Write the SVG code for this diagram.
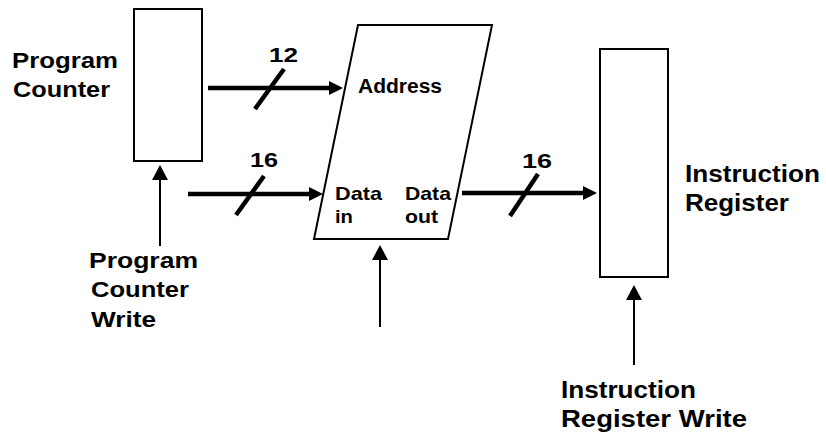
<svg xmlns="http://www.w3.org/2000/svg" width="826" height="435" viewBox="0 0 826 435">
<style>
.box{fill:#fff;stroke:#000;stroke-width:2}
.bus{stroke:#000;stroke-width:4.5;fill:none}
.thin{stroke:#000;stroke-width:2;fill:none}
.lbl{font-family:"Liberation Sans",Arial,sans-serif;font-weight:bold;fill:#000}
</style>
<defs>
<marker id="ah" markerUnits="userSpaceOnUse" markerWidth="14" markerHeight="14" refX="8" refY="7" orient="auto">
<path d="M0,0 L14,7 L0,14 z" fill="#000"/>
</marker>
<marker id="ahs" markerUnits="userSpaceOnUse" markerWidth="15" markerHeight="16" refX="9" refY="8" orient="auto">
<path d="M0,0 L15,8 L0,16 z" fill="#000"/>
</marker>
</defs>
<rect width="826" height="435" fill="#fff"/>
<g id="program-counter">
<rect class="box" x="134" y="9" width="68" height="152"/>
<text class="lbl" x="12" y="68" font-size="22" textLength="106" lengthAdjust="spacingAndGlyphs">Program</text>
<text class="lbl" x="13" y="97" font-size="22" textLength="97" lengthAdjust="spacingAndGlyphs">Counter</text>
</g>
<g id="memory">
<polygon class="box" points="358,25 492,25 448,239 314,239"/>
<text class="lbl" x="358" y="93" font-size="20" textLength="84" lengthAdjust="spacingAndGlyphs">Address</text>
<text class="lbl" x="335" y="200" font-size="18.5" textLength="47" lengthAdjust="spacingAndGlyphs">Data</text>
<text class="lbl" x="335" y="223" font-size="18.5" textLength="18" lengthAdjust="spacingAndGlyphs">in</text>
<text class="lbl" x="405" y="200" font-size="18.5" textLength="46" lengthAdjust="spacingAndGlyphs">Data</text>
<text class="lbl" x="405" y="223" font-size="18.5" textLength="33" lengthAdjust="spacingAndGlyphs">out</text>
</g>
<g id="instruction-register">
<rect class="box" x="600" y="49" width="68" height="228"/>
<text class="lbl" x="685" y="182" font-size="23" textLength="135" lengthAdjust="spacingAndGlyphs">Instruction</text>
<text class="lbl" x="685" y="211" font-size="23" textLength="104" lengthAdjust="spacingAndGlyphs">Register</text>
</g>
<g id="pc-write-label">
<text class="lbl" x="89" y="268" font-size="22" textLength="109" lengthAdjust="spacingAndGlyphs">Program</text>
<text class="lbl" x="91" y="297" font-size="22" textLength="98" lengthAdjust="spacingAndGlyphs">Counter</text>
<text class="lbl" x="91" y="327" font-size="22" textLength="65" lengthAdjust="spacingAndGlyphs">Write</text>
</g>
<g id="ir-write-label">
<text class="lbl" x="561" y="398" font-size="23" textLength="135" lengthAdjust="spacingAndGlyphs">Instruction</text>
<text class="lbl" x="561" y="427" font-size="23" textLength="186" lengthAdjust="spacingAndGlyphs">Register Write</text>
</g>
<g id="connectors">
<line class="bus" x1="208" y1="88" x2="337" y2="88" marker-end="url(#ah)"/>
<line class="bus" x1="255" y1="109" x2="284" y2="69"/>
<text class="lbl" x="269" y="62" font-size="21" textLength="29" lengthAdjust="spacingAndGlyphs">12</text>
<line class="bus" x1="188" y1="194" x2="317" y2="194" marker-end="url(#ah)"/>
<line class="bus" x1="236" y1="215" x2="264" y2="176"/>
<text class="lbl" x="250" y="167" font-size="21" textLength="28" lengthAdjust="spacingAndGlyphs">16</text>
<line class="bus" x1="462" y1="193" x2="591" y2="193" marker-end="url(#ah)"/>
<line class="bus" x1="510" y1="216" x2="538" y2="174"/>
<text class="lbl" x="522" y="168" font-size="21" textLength="30" lengthAdjust="spacingAndGlyphs">16</text>
<line class="thin" x1="160" y1="246" x2="160" y2="171" marker-end="url(#ahs)"/>
<line class="thin" x1="380" y1="327" x2="380" y2="251" marker-end="url(#ahs)"/>
<line class="thin" x1="634" y1="365" x2="634" y2="291" marker-end="url(#ahs)"/>
</g>
</svg>
